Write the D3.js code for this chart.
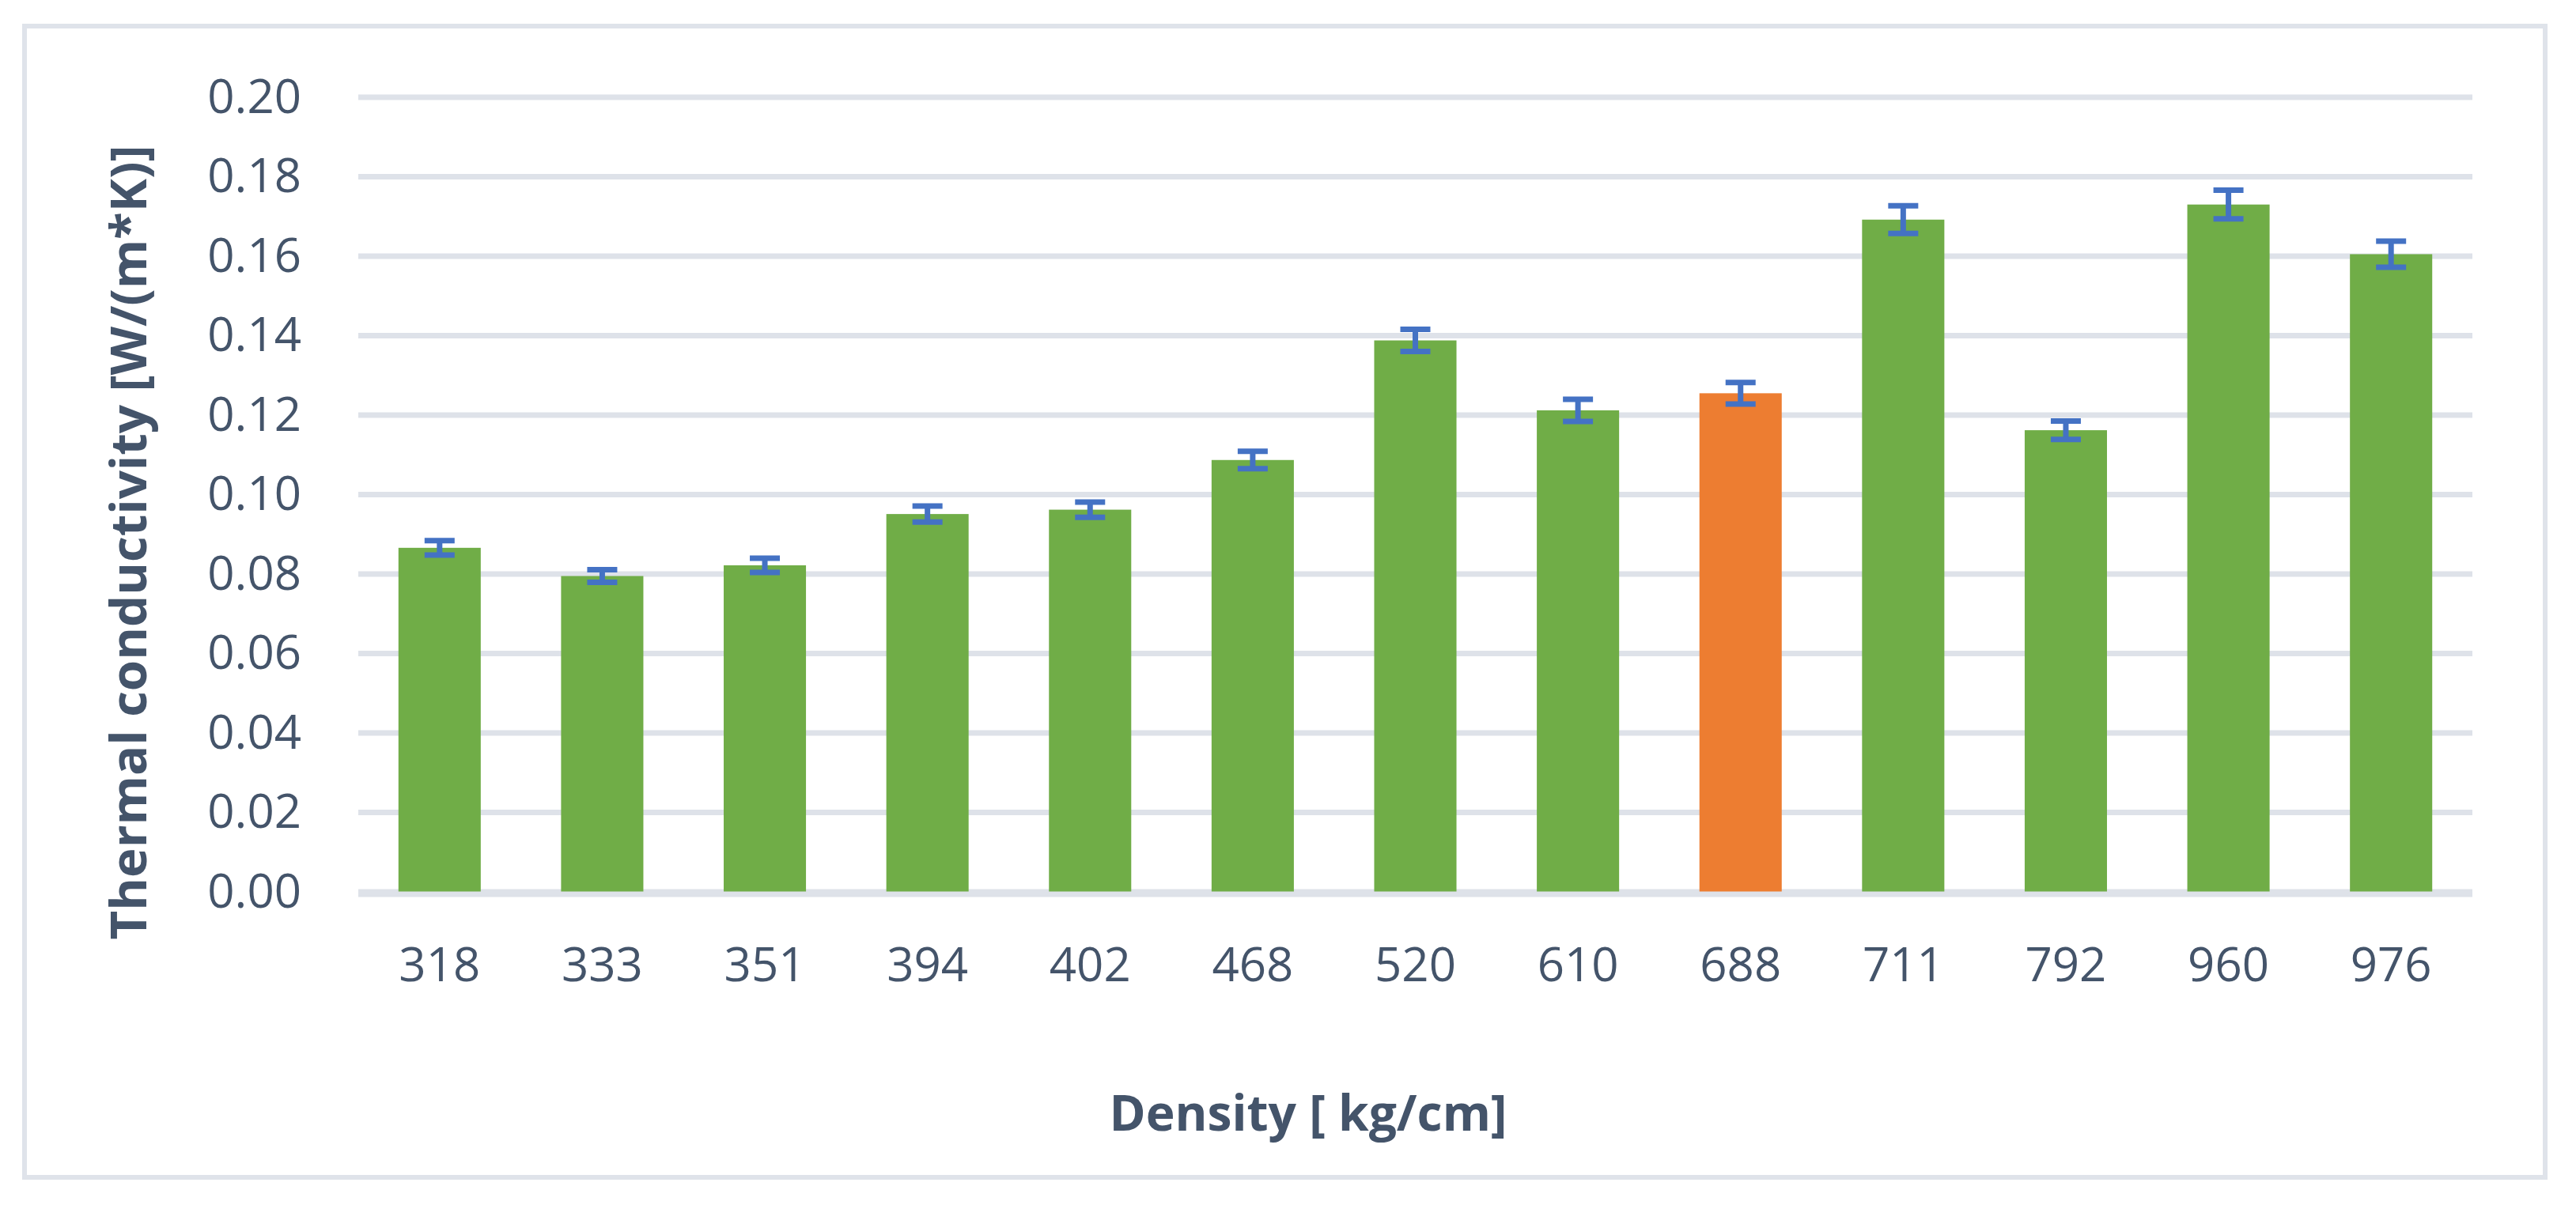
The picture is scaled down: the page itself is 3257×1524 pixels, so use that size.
<!DOCTYPE html>
<html>
<head>
<meta charset="utf-8">
<script src="https://cdn.jsdelivr.net/npm/d3@7"></script>
<style>
  body { margin: 0; background: #fff; }
  text { font-family: "Open Sans", "Noto Sans", sans-serif; fill: #44546a; }
</style>
</head>
<body>
<div id="visual"></div>
<script>
const densities = ["318", "333", "351", "394", "402", "468", "520", "610", "688", "711", "792", "960", "976"];
const conductivity = [0.0866, 0.0795, 0.0822, 0.0951, 0.0962, 0.1087, 0.1388, 0.1212, 0.1255, 0.1692, 0.1162, 0.1730, 0.1605];
const errors = [0.0018, 0.0016, 0.0018, 0.0020, 0.0019, 0.0022, 0.0028, 0.0028, 0.0027, 0.0035, 0.0023, 0.0036, 0.0033];
const highlight = ["688"];
const yTicks = [0, 0.02, 0.04, 0.06, 0.08, 0.10, 0.12, 0.14, 0.16, 0.18, 0.20];

const W = 3257, H = 1524;
const plotLeft = 453, plotRight = 3126, plotTop = 123, plotBottom = 1128;

const data = densities.map((d, i) => ({ name: d, value: conductivity[i], err: errors[i] }));

const svg = d3.select("#visual").append("svg")
  .attr("width", W).attr("height", H);

// outer frame
svg.append("rect")
  .attr("x", 31).attr("y", 33).attr("width", 3187).attr("height", 1456)
  .attr("fill", "#fff").attr("stroke", "#dfe3ea").attr("stroke-width", 6);

const x = d3.scaleBand().domain(densities).range([plotLeft, plotRight])
  .paddingInner(0.494).paddingOuter(0.247);
const y = d3.scaleLinear().domain([0, 0.2]).range([plotBottom, plotTop]);

// gridlines
svg.append("g").selectAll("line").data(yTicks).join("line")
  .attr("x1", plotLeft).attr("x2", plotRight)
  .attr("y1", d => y(d)).attr("y2", d => y(d))
  .attr("stroke", "#dee2e9").attr("stroke-width", 7);

// y axis labels
const yAxis = svg.append("g")
  .attr("transform", `translate(${plotLeft},0)`)
  .call(d3.axisLeft(y).tickValues(yTicks).tickFormat(d3.format(".2f")).tickSize(0).tickPadding(72));
yAxis.select(".domain").remove();
yAxis.selectAll("text").attr("font-size", 60).attr("fill", "#44546a")
  .style("font-family", "'Open Sans', sans-serif");

// bars
svg.append("g").selectAll("rect").data(data).join("rect")
  .attr("x", d => x(d.name))
  .attr("y", d => y(d.value))
  .attr("width", x.bandwidth())
  .attr("height", d => y(0) - y(d.value))
  .attr("fill", d => highlight.includes(d.name) ? "#ed7d31" : "#70ad47");

// error bars
const eb = svg.append("g").attr("stroke", "#4472c4").attr("stroke-width", 7);
data.forEach(d => {
  const cx = x(d.name) + x.bandwidth() / 2;
  const y1 = y(d.value + d.err), y2 = y(d.value - d.err);
  eb.append("line").attr("x1", cx).attr("x2", cx).attr("y1", y1).attr("y2", y2);
  eb.append("line").attr("x1", cx - 19).attr("x2", cx + 19).attr("y1", y1).attr("y2", y1);
  eb.append("line").attr("x1", cx - 19).attr("x2", cx + 19).attr("y1", y2).attr("y2", y2);
});

// baseline at zero
svg.append("line").attr("x1", plotLeft).attr("x2", plotRight)
  .attr("y1", y(0) + 3).attr("y2", y(0) + 3)
  .attr("stroke", "#dee2e9").attr("stroke-width", 7);

// x axis labels
const xAxis = svg.append("g")
  .attr("transform", `translate(0,${plotBottom})`)
  .call(d3.axisBottom(x).tickSize(0).tickPadding(70));
xAxis.select(".domain").remove();
xAxis.selectAll("text").attr("font-size", 60).attr("fill", "#44546a")
  .style("font-family", "'Open Sans', sans-serif");

// titles
svg.append("text")
  .attr("x", 1654).attr("y", 1430)
  .attr("text-anchor", "middle")
  .attr("font-size", 62).attr("font-weight", "bold")
  .attr("textLength", 503).attr("lengthAdjust", "spacingAndGlyphs")
  .text("Density [ kg/cm]");

svg.append("text")
  .attr("transform", "translate(185,686) rotate(-90)")
  .attr("text-anchor", "middle")
  .attr("font-size", 62).attr("font-weight", "bold")
  .attr("textLength", 1005).attr("lengthAdjust", "spacingAndGlyphs")
  .text("Thermal conductivity [W/(m*K)]");
</script>
</body>
</html>
